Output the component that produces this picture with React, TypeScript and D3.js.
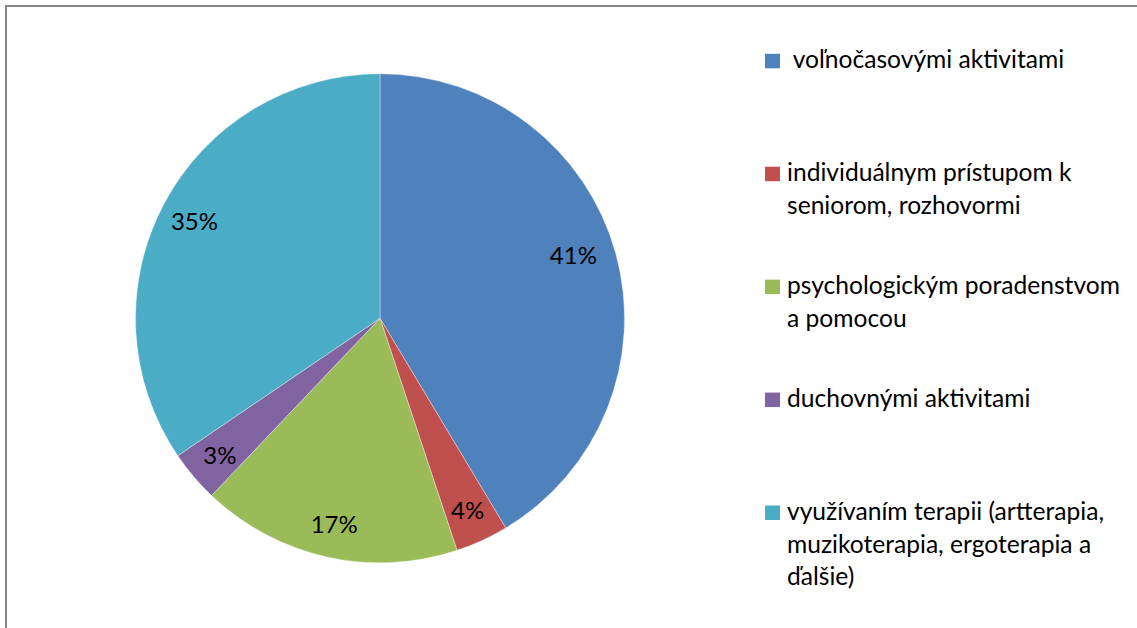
import React from "react";
import * as d3 from "d3";

const categories = [
  " voľnočasovými aktivitami",
  "individuálnym prístupom k|seniorom, rozhovormi",
  "psychologickým poradenstvom|a pomocou",
  "duchovnými aktivitami",
  "využívaním terapii (artterapia,|muzikoterapia, ergoterapia a|ďalšie)",
];
const values = [41.4, 3.5, 17.2, 3.4, 34.5];
const colors = ["#4F81BD", "#C0504D", "#9BBB59", "#8064A2", "#4BACC6"];

const W = 1137;
const H = 628;
const CX = 380;
const CY = 318.3;
const R = 244.5;
const LABEL_R = 210;
const FONT = "Lato, 'Open Sans', sans-serif";
const FS = 24;
const LEGEND_FS = 24.6;
const labelNudge: Record<number, [number, number]> = { 0: [-9, -8] };

export default function App() {
  const pie = d3
    .pie<number>()
    .sort(null)
    .value((d) => d)
    .startAngle(0)
    .endAngle(2 * Math.PI);
  const arcs = pie(values);
  const arc = d3.arc<d3.PieArcDatum<number>>().innerRadius(0).outerRadius(R);
  const labelArc = d3
    .arc<d3.PieArcDatum<number>>()
    .innerRadius(LABEL_R)
    .outerRadius(LABEL_R);

  const legendY = d3
    .scaleLinear()
    .domain([0, categories.length - 1])
    .range([68.3, 520]);
  const lineH = 32.6;

  return (
    <div style={{ position: "absolute", left: 0, top: 0, width: W, height: H, overflow: "hidden" }}>
      <svg width={W} height={H} style={{ display: "block", fontFamily: FONT }}>
        <rect x={0} y={0} width={W} height={H} fill="#ffffff" />
        <rect x={6} y={6} width={W + 20} height={H + 20} fill="none" stroke="#868686" strokeWidth={2} />
        <g transform={`translate(${CX},${CY})`}>
          {arcs.map((a, i) => (
            <path key={i} d={arc(a) || ""} fill={colors[i]} stroke="#ffffff" strokeWidth={0.6} strokeOpacity={0.6} />
          ))}
          {arcs.map((a, i) => {
            const [x, y] = labelArc.centroid(a);
            const n = labelNudge[i] || [0, 0];
            return (
              <text
                key={i}
                x={x + n[0]}
                y={y + n[1]}
                textAnchor="middle"
                dominantBaseline="central"
                fontSize={FS}
                fill="#000000"
              >
                {Math.round(values[i]) + "%"}
              </text>
            );
          })}
        </g>
        <g>
          {categories.map((c, i) => {
            const by = legendY(i);
            const lines = c.split("|");
            return (
              <g key={i}>
                <rect x={765} y={by - 14.5} width={15} height={14.5} fill={colors[i]} />
                <text x={787} y={by} fontSize={LEGEND_FS} fill="#000000" style={{ whiteSpace: "pre" }}>
                  {lines.map((l, j) => (
                    <tspan key={j} x={787} y={by + j * lineH}>
                      {l}
                    </tspan>
                  ))}
                </text>
              </g>
            );
          })}
        </g>
      </svg>
    </div>
  );
}
